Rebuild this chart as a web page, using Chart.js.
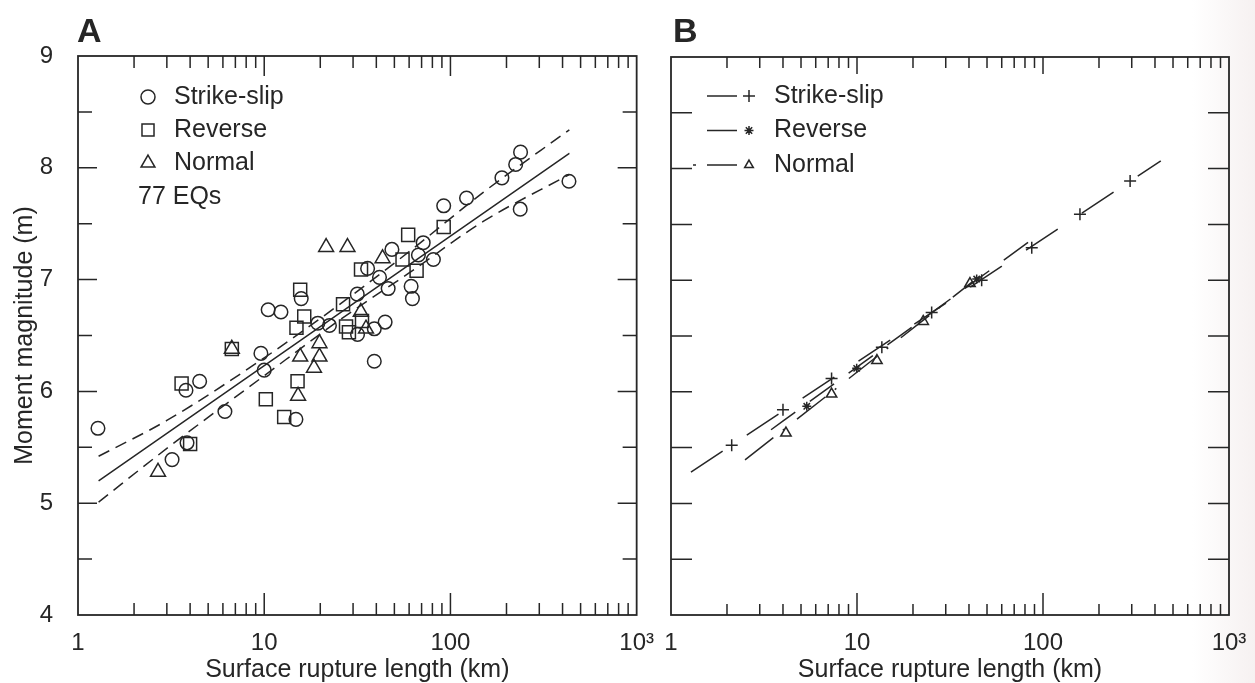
<!DOCTYPE html>
<html>
<head>
<meta charset="utf-8">
<script src="https://cdn.jsdelivr.net/npm/chart.js@4.4.1/dist/chart.umd.min.js"></script>
<style>
  html, body { margin: 0; padding: 0; }
  body {
    width: 1255px; height: 683px; position: relative; overflow: hidden;
    background: linear-gradient(to right, #ffffff 0%, #ffffff 95%, #f6f1f1 100%);
  }
  canvas { position: absolute; top: 0; }
  #chartA { left: 0; }
  #chartB { left: 655px; }
</style>
</head>
<body>
<canvas id="chartA" width="660" height="683"></canvas>
<canvas id="chartB" width="600" height="683"></canvas>
<script>
/* Surface rupture length vs moment magnitude — panel A (data + fit), panel B (fits by slip type). */

const INK = "#262626";
const FONT = '"Liberation Sans", Arial, Helvetica, sans-serif';

// axis ticks
const X_TICKS = [1, 2, 3, 4, 5, 6, 7, 8, 9, 10, 20, 30, 40, 50, 60, 70, 80, 90,
                 100, 200, 300, 400, 500, 600, 700, 800, 900, 1000];
const X_DECADES = [1, 10, 100, 1000];
const X_LABELS = ["1", "10", "100", "10\u00b3"];
const Y_TICKS = [4, 4.5, 5, 5.5, 6, 6.5, 7, 7.5, 8, 8.5, 9];
const X_TITLE = "Surface rupture length (km)";
const Y_TITLE = "Moment magnitude (m)";

// panel A: earthquakes [length km, magnitude]
const strikeSlipA = [
  [1.28, 5.67], [3.2, 5.39], [3.85, 5.54], [3.8, 6.01], [4.5, 6.09], [6.15, 5.82],
  [9.6, 6.34], [10.0, 6.19], [10.5, 6.73], [12.3, 6.71], [14.8, 5.75], [15.8, 6.83],
  [19.4, 6.61], [22.4, 6.59], [31.6, 6.87], [31.7, 6.51], [35.9, 7.10], [39, 6.56],
  [39, 6.27], [41.6, 7.02], [44.6, 6.62], [46.3, 6.92], [48.5, 7.27], [61.5, 6.94],
  [62.5, 6.83], [67.3, 7.22], [71.4, 7.33], [81, 7.18], [92, 7.66], [122, 7.73],
  [189, 7.91], [224, 8.03], [238, 8.14], [237, 7.63], [433, 7.88],
];
const reverseA = [
  [3.6, 6.07], [4.0, 5.53], [6.7, 6.38], [10.2, 5.93], [12.8, 5.77], [15.1, 6.09],
  [14.9, 6.57], [15.6, 6.91], [16.4, 6.67], [26.5, 6.78], [27.5, 6.58], [28.5, 6.53],
  [33.1, 7.09], [33.5, 6.63], [55.3, 7.18], [59.3, 7.40], [65.8, 7.08], [92, 7.47],
];
const normalA = [
  [2.69, 5.28], [6.7, 6.38], [15.2, 5.96], [15.6, 6.31], [18.5, 6.21], [19.8, 6.31],
  [19.8, 6.43], [21.5, 7.29], [28.0, 7.29], [33, 6.71], [35.2, 6.56], [43.2, 7.19],
];
// panel A: regression and its confidence band
const fitA = [[1.29, 5.20], [435, 8.13]];
const upperA = [[1.29, 5.42], [3, 5.74], [10, 6.30], [25, 6.77], [60, 7.25], [150, 7.78], [435, 8.34]];
const lowerA = [[1.29, 5.01], [3, 5.49], [10, 6.14], [25, 6.63], [60, 7.06], [150, 7.52], [435, 7.94]];

// panel B: regression per slip type, with their symbols
const ssFitB = [[1.28, 5.28], [430, 8.07]];
const revFitB = [[3.45, 5.66], [85, 7.35]];
const norFitB = [[2.5, 5.39], [42, 6.99]];
const ssMarksB = [[2.12, 5.52], [4.0, 5.84], [7.3, 6.12], [13.6, 6.40], [25.2, 6.71],
                  [46.8, 7.00], [87, 7.29], [158, 7.59], [294, 7.89]];
const revMarksB = [[5.37, 5.87], [9.96, 6.21], [44, 7.01]];
const norMarksB = [[4.15, 5.63], [7.3, 5.98], [12.8, 6.28], [22.7, 6.63], [40.5, 6.97]];

// legend rows
const legendLabels = ["Strike-slip", "Reverse", "Normal"];
const countLabel = "77 EQs";

const pts = (arr) => arr.map(([x, y]) => ({ x, y }));

function drawMark(ctx, style, x, y, r) {
  ctx.beginPath();
  if (style === "circle") {
    ctx.arc(x, y, r, 0, Math.PI * 2);
  } else if (style === "rect") {
    const s = r * Math.SQRT1_2;
    ctx.rect(x - s, y - s, 2 * s, 2 * s);
  } else if (style === "triangle") {
    for (let i = 0; i < 3; i++) {
      const a = i * 2 * Math.PI / 3;
      const px = x + Math.sin(a) * r, py = y - Math.cos(a) * r;
      i ? ctx.lineTo(px, py) : ctx.moveTo(px, py);
    }
    ctx.closePath();
  } else if (style === "cross") {
    ctx.moveTo(x - r, y); ctx.lineTo(x + r, y);
    ctx.moveTo(x, y - r); ctx.lineTo(x, y + r);
  } else if (style === "star") {
    for (let i = 0; i < 4; i++) {
      const a = i * Math.PI / 4;
      ctx.moveTo(x - Math.cos(a) * r, y - Math.sin(a) * r);
      ctx.lineTo(x + Math.cos(a) * r, y + Math.sin(a) * r);
    }
  }
  ctx.stroke();
}

// frame with inward ticks on all four sides, panel letter and key
const panelFrame = {
  id: "panelFrame",
  afterDatasetsDraw(chart, args, o) {
    const { ctx, chartArea: a, scales: { x, y } } = chart;
    ctx.save();
    ctx.strokeStyle = INK;
    ctx.lineWidth = 1.8;
    ctx.strokeRect(a.left, a.top, a.right - a.left, a.bottom - a.top);

    ctx.lineWidth = 1.5;
    ctx.beginPath();
    X_TICKS.forEach((v) => {
      if (v === 1 || v === 1000) return;
      const px = x.getPixelForValue(v);
      const major = X_DECADES.includes(v);
      ctx.moveTo(px, a.bottom); ctx.lineTo(px, a.bottom - (major ? o.xMajor : o.xMinor));
      ctx.moveTo(px, a.top); ctx.lineTo(px, a.top + (major ? o.xMajorTop : o.xMinor));
    });
    Y_TICKS.forEach((v) => {
      if (v === 4 || v === 9) return;
      const py = y.getPixelForValue(v);
      const len = Number.isInteger(v) ? o.yMajor : o.yMinor;
      ctx.moveTo(a.left, py); ctx.lineTo(a.left + len, py);
      ctx.moveTo(a.right, py); ctx.lineTo(a.right - len, py);
    });
    ctx.stroke();

    ctx.fillStyle = INK;
    ctx.font = "bold 34px " + FONT;
    ctx.textBaseline = "alphabetic";
    ctx.fillText(o.letter, a.left + o.letterDx, 42);

    ctx.font = "25px " + FONT;
    ctx.textBaseline = "middle";
    ctx.lineWidth = 1.5;
    o.key.forEach((row, i) => {
      const ry = a.top + o.keyTop + i * o.keyStep;
      if (row.dash) {
        ctx.beginPath();
        ctx.moveTo(a.left + 36, ry); ctx.lineTo(a.left + 66, ry);
        if (row.dot) { ctx.moveTo(a.left + 22, ry); ctx.lineTo(a.left + 25, ry); }
        ctx.stroke();
      }
      drawMark(ctx, row.mark, a.left + o.markDx, ry, row.r);
      ctx.fillText(row.label, a.left + o.textDx, ry);
    });
    if (o.note) ctx.fillText(o.note, a.left + 60, a.top + 141);
    ctx.restore();
  },
};

function xScale() {
  return {
    type: "logarithmic", min: 1, max: 1000,
    afterBuildTicks(s) { s.ticks = X_TICKS.map((v) => ({ value: v })); },
    afterFit(s) { s.height = 68; },
    grid: { display: false },
    border: { display: false },
    ticks: {
      autoSkip: false, maxRotation: 0, padding: 6, color: INK,
      font: { family: FONT, size: 24 },
      callback: (v) => X_LABELS[X_DECADES.indexOf(v)] ?? "",
    },
    title: {
      display: true, text: X_TITLE, color: INK, padding: 0,
      font: { family: FONT, size: 25, lineHeight: 1.04 },
    },
  };
}

function yScale(width, withLabels) {
  return {
    type: "linear", min: 4, max: 9,
    afterBuildTicks(s) { s.ticks = Y_TICKS.map((v) => ({ value: v })); },
    afterFit(s) { s.width = width; },
    grid: { display: false },
    border: { display: false },
    ticks: {
      display: withLabels, padding: 17, color: INK,
      font: { family: FONT, size: 24 },
      callback: (v) => (Number.isInteger(v) ? String(v) : ""),
    },
    title: {
      display: withLabels, text: Y_TITLE, color: INK, padding: { top: 12, bottom: 0 },
      font: { family: FONT, size: 25, lineHeight: 1.04 },
    },
  };
}

const lineSet = (data, dash, width) => ({
  data: pts(data), showLine: true, pointRadius: 0, borderColor: INK,
  borderWidth: width, borderDash: dash, cubicInterpolationMode: "monotone", fill: false,
});
const markSet = (data, style, r) => ({
  data: pts(data), showLine: false, pointStyle: style, pointRadius: r,
  pointBorderWidth: 1.5, pointBorderColor: INK, pointBackgroundColor: "rgba(0,0,0,0)",
});

const baseOptions = (pad, yWidth, withLabels, frame) => ({
  responsive: false,
  animation: false,
  layout: { padding: pad },
  plugins: { legend: { display: false }, tooltip: { enabled: false }, panelFrame: frame },
  scales: { x: xScale(), y: yScale(yWidth, withLabels) },
});

new Chart(document.getElementById("chartA"), {
  type: "scatter",
  data: {
    datasets: [
      lineSet(fitA, [], 1.5),
      lineSet(upperA, [12, 7], 1.5),
      lineSet(lowerA, [12, 7], 1.5),
      markSet(strikeSlipA, "circle", 6.8),
      markSet(reverseA, "rect", 9.2),
      markSet(normalA, "triangle", 8.6),
    ],
  },
  options: baseOptions({ top: 56, right: 22, left: 0, bottom: 0 }, 78, true, {
    letter: "A", letterDx: -1,
    xMajor: 22, xMajorTop: 20, xMinor: 12, yMajor: 19, yMinor: 14,
    keyTop: 41, keyStep: 33, markDx: 70, textDx: 96,
    key: [
      { mark: "circle", r: 7, label: legendLabels[0] },
      { mark: "rect", r: 8.5, label: legendLabels[1] },
      { mark: "triangle", r: 8, label: legendLabels[2] },
    ],
    note: countLabel,
  }),
  plugins: [panelFrame],
});

new Chart(document.getElementById("chartB"), {
  type: "scatter",
  data: {
    datasets: [
      lineSet(ssFitB, [38, 29], 1.5),
      lineSet(revFitB, [30, 18], 1.5),
      lineSet(norFitB, [36, 12, 2, 16], 1.5),
      markSet(ssMarksB, "cross", 6),
      markSet(revMarksB, "star", 4.5),
      markSet(norMarksB, "triangle", 6),
    ],
  },
  options: baseOptions({ top: 57, right: 26, left: 0, bottom: 0 }, 16, false, {
    letter: "B", letterDx: 2,
    xMajor: 22, xMajorTop: 17, xMinor: 11, yMajor: 21, yMinor: 21,
    keyTop: 39, keyStep: 34.5, markDx: 78, textDx: 103,
    key: [
      { mark: "cross", r: 6, dash: true, label: legendLabels[0] },
      { mark: "star", r: 4.5, dash: true, label: legendLabels[1] },
      { mark: "triangle", r: 5, dash: true, dot: true, label: legendLabels[2] },
    ],
  }),
  plugins: [panelFrame],
});
</script>
</body>
</html>
